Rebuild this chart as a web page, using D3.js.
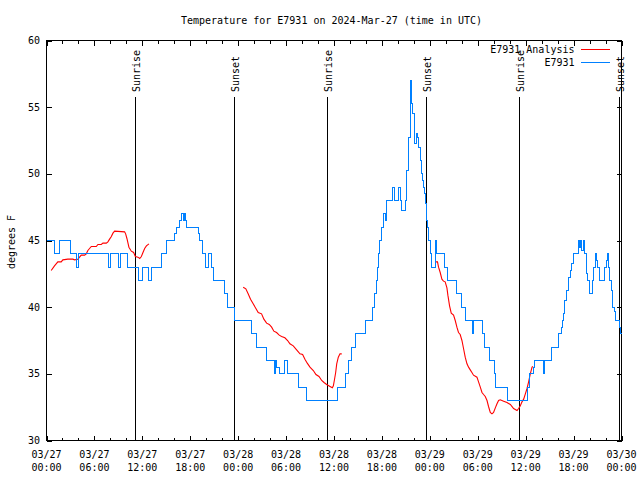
<!DOCTYPE html>
<html><head><meta charset="utf-8">
<script src="https://cdn.jsdelivr.net/npm/d3@7"></script>
<style>
body{margin:0;background:#fff}
svg{display:block}
text{font-family:"DejaVu Sans Mono","Liberation Mono",monospace;font-size:10px;fill:#000}
</style>
</head><body>
<svg id="chart" width="640" height="480"></svg>
<script>
// ---- data (hours since 2024-03-27 00:00 UTC) ----
const titleText = "Temperature for E7931 on 2024-Mar-27 (time in UTC)";
const yLabelText = "degrees F";
const seriesNames = ["E7931 Analysis", "E7931"];
const seriesColors = ["#ff0000", "#0080ff"];

const obsHours = [0.00,1.00,1.63,3.01,3.76,4.01,7.71,7.97,8.97,9.28,10.10,11.54,12.04,12.73,13.11,14.43,15.05,16.06,16.31,16.68,16.90,17.10,17.22,17.40,17.56,19.00,19.19,19.57,19.94,20.32,20.63,20.89,22.33,22.70,23.58,25.65,26.34,27.53,28.54,28.66,28.85,29.16,29.77,30.17,31.61,32.61,36.38,37.38,37.76,38.13,38.63,39.95,40.77,41.02,41.27,41.39,41.52,41.71,41.98,42.15,42.21,42.40,42.52,42.61,43.36,43.56,44.07,44.28,44.49,44.91,45.12,45.32,45.53,45.75,45.85,46.03,46.29,46.45,46.57,46.79,47.00,47.10,47.20,47.29,47.41,47.54,47.63,47.73,47.83,48.04,48.25,48.73,48.86,49.80,50.21,51.30,52.02,52.52,53.40,53.52,54.65,54.85,55.44,56.07,56.20,57.74,60.17,60.50,60.92,61.13,62.18,62.38,63.18,64.14,64.44,64.64,64.69,64.85,65.06,65.39,65.60,65.69,65.94,66.64,66.77,66.86,66.98,67.20,67.40,67.57,67.70,67.99,68.33,68.45,68.74,68.87,69.03,69.24,69.87,70.08,70.21,70.33,70.50,70.71,70.91,71.09,71.25,71.71,71.87,72.00];
const obsTemps = [45,44,45,44,43,44,43,44,43,44,43,42,43,42,43,44,45,45.5,46,46.5,47,46.5,47,46.5,46,45.5,45,44,43,44,43,42,41,40,39,38,37,36,35,36,35.5,35,36,35,34,33,34,35,36,37,38,39,40,41,42,43,44,45,46,46.5,47,46.5,47.5,48,49,48,49,48,47.25,48,50.25,52.75,57,55.3,54.5,52.25,53,52.75,52,51,50,49.5,49,48.5,47.75,47,46.5,46,45,44,43,45,44,43,42,41,40,39,38,39,38,37,36,35,34,33,34,35,35.5,36,35,36,37,38,38.5,39,39.5,40.5,41.25,42.25,42.75,43.25,44,45,44.5,45,44.25,45,44,42.5,42,41,42,43,44,43.5,43,42,43,43.5,44,43,42,41.25,40,39.7,39,38.5,38,38];

// null entries separate the analysis runs
const anaHours = [0.59,1.00,1.42,1.84,2.05,2.67,3.30,3.51,3.93,4.14,4.35,4.77,4.98,5.18,5.39,5.61,6.23,6.44,6.86,7.06,7.49,7.69,7.90,8.12,8.32,8.53,9.78,9.91,10.07,10.32,10.62,10.91,11.13,11.45,11.67,11.88,12.08,12.29,12.51,12.83,
  null,
  24.63,24.96,25.25,25.55,25.88,26.22,26.51,26.93,27.22,27.56,27.89,28.19,28.47,28.81,29.14,29.44,29.85,30.19,30.48,30.90,31.32,31.74,32.07,32.36,32.65,32.99,33.41,33.74,34.12,34.46,34.75,35.08,35.50,35.79,35.92,36.04,36.21,36.34,36.54,36.75,36.97,
  null,
  48.71,48.96,49.09,49.30,49.51,49.71,49.92,50.14,50.26,50.47,50.68,50.97,51.18,51.39,51.59,51.80,52.02,52.22,52.43,52.65,52.85,53.06,53.27,53.47,53.90,54.10,54.32,54.53,54.73,54.94,55.16,55.35,55.57,55.78,55.98,56.20,56.41,56.61,56.82,57.24,57.66,58.08,58.49,58.92,59.12,59.33,59.54,59.75,59.96,60.17,60.37,60.58,60.80,60.92];
const anaTemps = [42.75,43.1,43.4,43.4,43.55,43.6,43.6,43.55,43.6,43.75,43.9,43.9,44.0,44.25,44.4,44.55,44.55,44.7,44.7,44.8,44.8,44.9,45.1,45.3,45.55,45.7,45.65,45.5,45.15,44.5,44.2,44.1,43.8,43.75,43.65,43.8,44.1,44.4,44.6,44.75,
  null,
  41.5,41.375,41.0,40.6,40.25,39.9,39.6,39.5,39.1,38.8,38.7,38.5,38.2,38.1,37.9,37.8,37.7,37.5,37.25,37.1,36.8,36.5,36.45,36.1,35.8,35.5,35.25,34.95,34.8,34.5,34.35,34.2,34.05,33.95,34.1,34.5,35.1,35.75,36.25,36.5,36.5,
  null,
  43.4,43.4,43.0,42.6,42.1,41.95,41.9,41.45,40.9,40.1,39.55,39.4,39.0,38.5,38.1,37.95,37.5,36.9,36.25,35.75,35.5,35.3,35.1,34.9,34.75,34.4,34.0,33.6,33.45,33.3,33.0,32.55,32.1,32.0,32.1,32.45,32.75,33.0,33.05,32.95,32.85,32.7,32.4,32.25,32.4,32.6,32.9,33.1,33.5,33.9,34.4,35.0,35.5,35.55];

const sunriseHours = [11.04, 35.15, 59.12];
const sunsetHours = [23.52, 47.58, 71.66];
const yTickValues = [30, 35, 40, 45, 50, 55, 60];
const yDomain = [30, 60];
const startTime = Date.UTC(2024, 2, 27, 0, 0);
const spanHours = 72;

// ---- drawing ----
const svg = d3.select("#chart");
const L = 46.5, R = 621.5, T = 40.5, B = 440.5;
const HOUR = 3600e3;
const toDate = h => new Date(startTime + h * HOUR);

const x = d3.scaleUtc().domain([toDate(0), toDate(spanHours)]).range([L, R]);
const y = d3.scaleLinear().domain(yDomain).range([B, T]);

// title
svg.append("text").attr("x", 331.5).attr("y", 23.5).attr("text-anchor", "middle").text(titleText);

// y label
svg.append("text").attr("transform", "translate(15,242) rotate(-90)").attr("text-anchor", "middle").text(yLabelText);

const axes = svg.append("g").attr("stroke", "#000").attr("stroke-width", 1).attr("shape-rendering", "crispEdges");

// x ticks
const majorTicks = x.ticks(d3.utcHour.every(6));
const minorTicks = x.ticks(d3.utcHour.every(2)).filter(d => d.getUTCHours() % 6 !== 0);
majorTicks.forEach(d => {
  const px = Math.round(x(d)) + 0.5;
  axes.append("line").attr("x1", px).attr("x2", px).attr("y1", B).attr("y2", B - 5);
  axes.append("line").attr("x1", px).attr("x2", px).attr("y1", T).attr("y2", T + 5);
});
minorTicks.forEach(d => {
  const px = Math.round(x(d)) + 0.5;
  axes.append("line").attr("x1", px).attr("x2", px).attr("y1", B).attr("y2", B - 3);
  axes.append("line").attr("x1", px).attr("x2", px).attr("y1", T).attr("y2", T + 3);
});
const fmtDate = d3.utcFormat("%m/%d"), fmtTime = d3.utcFormat("%H:%M");
majorTicks.forEach(d => {
  const t = svg.append("text").attr("text-anchor", "middle");
  t.append("tspan").attr("x", x(d)).attr("y", 457.5).text(fmtDate(d));
  t.append("tspan").attr("x", x(d)).attr("y", 471).text(fmtTime(d));
});

// y ticks
yTickValues.forEach(v => {
  const py = Math.round(y(v)) + 0.5;
  axes.append("line").attr("x1", L).attr("x2", L + 5).attr("y1", py).attr("y2", py);
  axes.append("line").attr("x1", R).attr("x2", R - 5).attr("y1", py).attr("y2", py);
  svg.append("text").attr("x", 40).attr("y", y(v) + 3.5).attr("text-anchor", "end").text(v);
});

// sunrise / sunset
const events = sunriseHours.map(h => ({h, label: "Sunrise"}))
  .concat(sunsetHours.map(h => ({h, label: "Sunset"})));
events.forEach(e => {
  const px = Math.round(x(toDate(e.h))) + 0.5;
  axes.append("line").attr("x1", px).attr("x2", px).attr("y1", 97).attr("y2", B);
  svg.append("text")
    .attr("transform", `translate(${px + 4},92) rotate(-90)`)
    .attr("text-anchor", "start")
    .text(e.label);
});

// series
const obs = obsHours.map((h, i) => ({d: toDate(h), v: obsTemps[i]}));
const ana = anaHours.map((h, i) => ({d: h == null ? null : toDate(h), v: anaTemps[i]}));

svg.append("path")
  .datum(ana)
  .attr("fill", "none").attr("stroke", seriesColors[0]).attr("stroke-width", 1.1)
  .attr("d", d3.line().defined(p => p.d != null && p.v != null).x(p => x(p.d)).y(p => y(p.v)));

svg.append("path")
  .datum(obs)
  .attr("fill", "none").attr("stroke", seriesColors[1]).attr("stroke-width", 1)
  .attr("shape-rendering", "crispEdges")
  .attr("d", d3.line().curve(d3.curveStepAfter).x(p => x(p.d)).y(p => y(p.v)));

// frame
axes.append("rect").attr("x", L).attr("y", T).attr("width", R - L).attr("height", B - T).attr("fill", "none");

// legend
const legY = [49.5, 62.5];
seriesNames.forEach((name, i) => {
  svg.append("text").attr("x", 574.5).attr("y", legY[i] + 3.5).attr("text-anchor", "end").text(name);
  svg.append("line").attr("x1", 581).attr("x2", 610).attr("y1", legY[i]).attr("y2", legY[i])
    .attr("stroke", seriesColors[i]).attr("stroke-width", 1).attr("shape-rendering", "crispEdges");
});
</script>
</body></html>
